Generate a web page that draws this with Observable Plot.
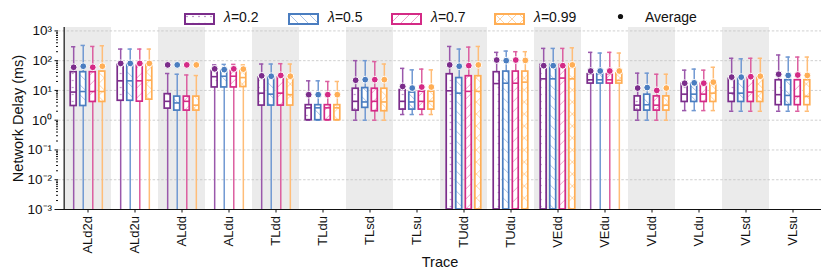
<!DOCTYPE html>
<html><head><meta charset="utf-8">
<script src="https://cdn.jsdelivr.net/npm/d3@7"></script>
<script src="https://cdn.jsdelivr.net/npm/@observablehq/plot@0.6"></script>
<style>
body{margin:0;background:#fff;font-family:"Liberation Sans",Arial,sans-serif;}
#wrap{position:relative;width:831px;height:277px;overflow:hidden;}
#legend{position:absolute;left:0;top:0;width:831px;height:27px;font-size:14px;color:#111;}
.lp{position:absolute;top:12px;}
.lt{position:absolute;top:9px;line-height:16px;white-space:nowrap;}
</style></head><body>
<div id="wrap"><div id="chart"></div><div id="legend"></div></div>
<script>
const traces = ["ALd2d","ALd2u","ALdd","ALdu","TLdd","TLdu","TLsd","TLsu","TUdd","TUdu","VEdd","VEdu","VLdd","VLdu","VLsd","VLsu"];
const lambdas = ["λ=0.2","λ=0.5","λ=0.7","λ=0.99"];
const colors = ["#7b2d8b","#4a7dc0","#d42a86","#ffae55"];
const hatchColors = ["#a876b8","#9ab8e2","#ec92c4","#ffd09c"];
const whiskerColors = ["#9a58ab","#7199d2","#dc5fa0","#ffbd78"];
const yTicks = [1e-3,1e-2,1e-1,1,10,100,1000];
const yTickLabels = ["10⁻³","10⁻²","10⁻¹","10⁰","10¹","10²","10³"];
// per trace: [λ0.2, λ0.5, λ0.7, λ0.99]; 0 = below the axis floor
const whiskerLow = [[0,0,0,0],[0,0,0,0],[0,0,0,0],[0,0,0,0],[0,0,0,0],[1,1,1,1],[1,1,1,1],[1.55,1.55,1.55,1.55],[0,0,0,0],[0,0,0,0],[0,0,0,0],[0,0,0,0],[1,1,1,1],[2.1,2.1,2.1,2.1],[2,2,2,2],[2,2,2,2]];
const q1 = [[3.0,3.0,4.1,4.1],[4.5,4.5,4.2,4.9],[2.45,2.1,2.1,2.1],[12.6,12.6,12.6,13],[3.1,3.1,3.1,3.1],[1,1,1,1],[2.1,2.6,2.0,2.0],[2.27,2.27,2.27,2.27],[0,0,0,0],[0,0,0,0],[0,0,0,0],[17,17,17,17],[2.1,2.1,2.1,2.1],[4.1,4.1,4.1,4.1],[4.1,4.1,4.1,4.1],[3.2,3.2,3.2,3.2]];
const median = [[8.8,9.2,9.2,9.2],[21,21,21,22],[4.3,3.8,4.3,3.2],[29,30,30,27],[8.1,7.5,8.1,7.2],[2.6,2.6,2.6,2.6],[4.3,4.1,4.3,4.1],[4.3,4.1,4.3,4.3],[9.7,8.1,9.3,9.3],[17,17.5,17.5,19],[24.5,24.5,26,24.5],[22.7,22.7,22.7,21.7],[3.2,3.3,3.2,3.2],[7.5,7.5,7.5,8.1],[8.1,8.1,8.8,9.2],[7.2,6.8,6.3,6.3]];
const q3 = [[41,41,41,43],[72,72,68,72],[7.5,6.2,6.2,6.2],[45,45,45,45],[27,27,27,24],[3.2,3.2,3.2,3.2],[11.4,12,11.4,11.4],[10.3,8.5,9.1,9.1],[35,26,30,30],[41,43,43,43],[72,72,72,75],[35,35,35,37],[6.3,7.2,6.3,6.3],[16.7,16.7,16.7,17.5],[24.5,24.5,26,26],[22,22,22,22]];
const whiskerHigh = [[293,325,300,316],[245,245,245,245],[37,35,33,31.6],[72,75,75,72],[77,77,79,77],[21,21,20,20],[100,100,93,77],[55,49,52,49],[300,245,285,300],[190,210,200,200],[258,258,258,270],[190,180,190,180],[38,38,35,35],[48,52,48,60],[120,115,120,120],[155,132,132,132]];
const average = [[60,65,60,65],[81,81,81,81],[72,72,72,72],[53,50,53,52],[31,30,32,30],[7.2,7.2,7.2,7.2],[22,23,23,23],[13.6,12,13,13],[72,65,68,72],[105,100,105,102],[68,68,68,72],[45,45,45,45],[12,12.5,10,12],[17.5,18,17.5,19],[28,28,29,30],[35,32,33,32]];
const yLabel = "Network Delay (ms)";
const xLabel = "Trace";

const W = 831, H = 277, mL = 58, mR = 10, mT = 27, mB = 68;
const yMin = 1e-3, yMax = 1300;
const bw = (W - mL - mR) / traces.length;
const step = 9.55, boxW = 6.6, capW = 5;
const clampY = v => Math.max(v, yMin);

const rows = [];
traces.forEach((t, i) => lambdas.forEach((l, j) => rows.push({
  trace: t, j, lo: clampY(whiskerLow[i][j]), q1: clampY(q1[i][j]), med: median[i][j],
  q3: q3[i][j], hi: whiskerHigh[i][j], mean: average[i][j]
})));

const marks = [
  Plot.barY(traces.filter((_, i) => i % 2 === 0), {x: d => d, y1: yMin, y2: yMax, fill: "#ebebeb"}),
  Plot.gridY({ticks: yTicks, stroke: "#c4c4c4", strokeOpacity: 1, strokeWidth: 0.8, strokeDasharray: "2.5,1.8"})
];
lambdas.forEach((l, j) => {
  const d = rows.filter(r => r.j === j);
  const dx = (j - 1.5) * step;
  const inBox = (bw - boxW) / 2, inCap = (bw - capW) / 2;
  marks.push(
    Plot.ruleX(d, {x: "trace", y1: "lo", y2: "q1", stroke: whiskerColors[j], strokeWidth: 1.5, dx}),
    Plot.ruleX(d, {x: "trace", y1: "q3", y2: "hi", stroke: whiskerColors[j], strokeWidth: 1.5, dx}),
    Plot.tickY(d.filter(r => r.lo > yMin), {x: "trace", y: "lo", stroke: whiskerColors[j], strokeWidth: 1.5, insetLeft: inCap, insetRight: inCap, dx}),
    Plot.tickY(d, {x: "trace", y: "hi", stroke: whiskerColors[j], strokeWidth: 1.5, insetLeft: inCap, insetRight: inCap, dx}),
    Plot.barY(d, {x: "trace", y1: "q1", y2: "q3", fill: `url(#pat${j})`, stroke: colors[j], strokeWidth: 1.7, insetLeft: inBox, insetRight: inBox, dx}),
    Plot.tickY(d, {x: "trace", y: "med", stroke: colors[j], strokeWidth: 1.6, insetLeft: inBox, insetRight: inBox, dx}),
    Plot.dot(d, {x: "trace", y: "mean", r: 3.4, fill: colors[j], stroke: "white", strokeWidth: 1, dx})
  );
});
marks.push(
  Plot.ruleY([yMin], {stroke: "#111", strokeWidth: 1.2}),
  Plot.ruleX([traces[0]], {dx: -bw / 2, y1: yMin, y2: yMax, stroke: "#111", strokeWidth: 1.2}),
  Plot.axisY({ticks: yTicks, tickFormat: v => yTickLabels[yTicks.indexOf(v)], tickSize: 3.5, tickPadding: 3, fontSize: 13.5, label: null}),
  Plot.axisY({ticks: [2,3,4,5,6,7,8,9].flatMap(m => [1e-3,1e-2,1e-1,1,10,100].map(p => m * p)), tickSize: 2, tickFormat: () => "", label: null}),
  Plot.axisX({tickRotate: -90, tickSize: 3.5, tickPadding: 3, fontSize: 13, label: null}),
  Plot.text([yLabel], {text: d => d, frameAnchor: "left", textAnchor: "middle", lineAnchor: "middle", rotate: -90, dx: -40, fontSize: 14.5, fill: "#111"}),
  Plot.text([xLabel], {text: d => d, frameAnchor: "bottom", textAnchor: "middle", lineAnchor: "middle", dy: 53, fontSize: 14.5, fill: "#111"})
);

const svg = Plot.plot({
  width: W, height: H, marginLeft: mL, marginRight: mR, marginTop: mT, marginBottom: mB,
  style: {fontFamily: "'Liberation Sans', Arial, sans-serif", fontSize: "13px", color: "#111", background: "white"},
  x: {type: "band", domain: traces, padding: 0},
  y: {type: "log", domain: [yMin, yMax]},
  marks
});

const patDefs = `<defs>
<pattern id="pat0" patternUnits="userSpaceOnUse" width="6" height="7"><rect width="6" height="7" fill="white"/><circle cx="3" cy="3.5" r="0.8" fill="${hatchColors[0]}"/></pattern>
<pattern id="pat1" patternUnits="userSpaceOnUse" width="10" height="10"><rect width="10" height="10" fill="white"/><path d="M-1,-1L11,11M-6,4L6,16M4,-6L16,6" stroke="${hatchColors[1]}" stroke-width="0.9"/></pattern>
<pattern id="pat2" patternUnits="userSpaceOnUse" width="10" height="10"><rect width="10" height="10" fill="white"/><path d="M-1,11L11,-1M-6,6L6,-6M4,16L16,4" stroke="${hatchColors[2]}" stroke-width="0.9"/></pattern>
<pattern id="pat3" patternUnits="userSpaceOnUse" width="12" height="12"><rect width="12" height="12" fill="white"/><path d="M-1,-1L13,13M-1,13L13,-1" stroke="${hatchColors[3]}" stroke-width="0.9"/></pattern>
</defs>`;
svg.insertAdjacentHTML("afterbegin", patDefs);
document.getElementById("chart").appendChild(svg);

// legend
const legend = document.getElementById("legend");
const patchX = [184, 288, 391, 494];
lambdas.forEach((l, j) => {
  const p = document.createElement("div");
  p.className = "lp"; p.style.left = patchX[j] + "px";
  p.innerHTML = `<svg width="31" height="12"><rect x="1" y="1" width="29" height="10" fill="url(#pat${j})" stroke="${colors[j]}" stroke-width="2"/></svg>`;
  legend.appendChild(p);
  const t = document.createElement("div");
  t.className = "lt"; t.style.left = (patchX[j] + 40) + "px";
  t.innerHTML = `<i>λ</i>=${l.split("=")[1]}`;
  legend.appendChild(t);
});
const dotEl = document.createElement("div");
dotEl.className = "lp"; dotEl.style.left = "617px"; dotEl.style.top = "13px";
dotEl.innerHTML = `<svg width="7" height="7" style="display:block"><circle cx="3.5" cy="3.5" r="2.6" fill="#111"/></svg>`;
legend.appendChild(dotEl);
const avg = document.createElement("div");
avg.className = "lt"; avg.style.left = "645px"; avg.textContent = "Average";
legend.appendChild(avg);
</script>
</body></html>
